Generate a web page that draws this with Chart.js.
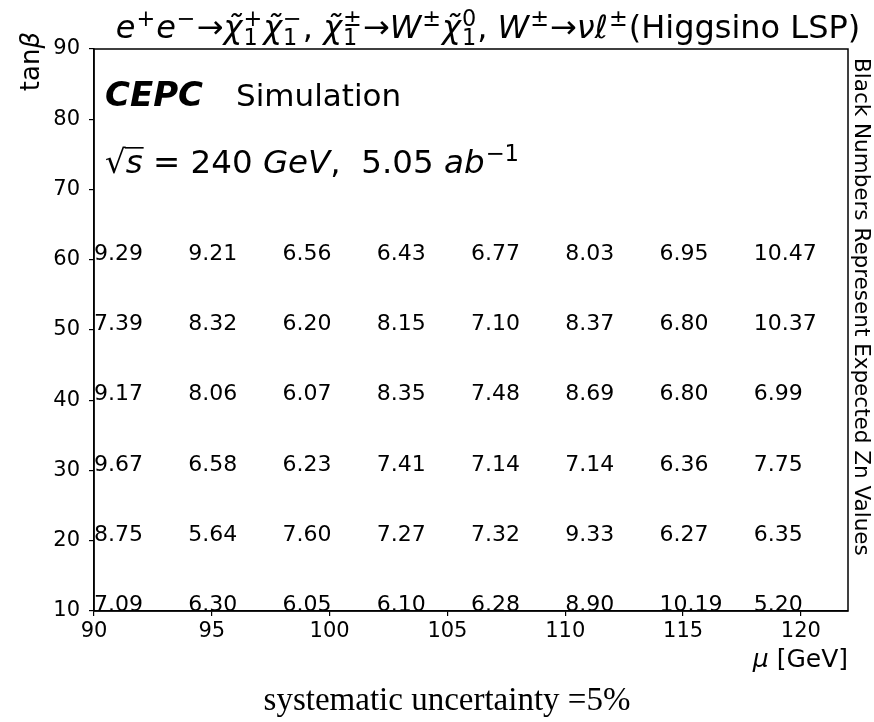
<!DOCTYPE html>
<html>
<head>
<meta charset="utf-8">
<script src="https://cdn.jsdelivr.net/npm/chart.js@4.4.0/dist/chart.umd.min.js"></script>
<style>
body { margin: 0; background: #fff; }
</style>
</head>
<body>
<canvas id="chart" width="874" height="722"></canvas>
<script>
// grid of (mu, tanBeta) points and the Zn value written at each one
const muPoints = [90, 94, 98, 102, 106, 110, 114, 118];
const tanBetaPoints = [60, 50, 40, 30, 20, 10];

const zn60 = [9.29, 9.21, 6.56, 6.43, 6.77, 8.03, 6.95, 10.47];
const zn50 = [7.39, 8.32, 6.20, 8.15, 7.10, 8.37, 6.80, 10.37];
const zn40 = [9.17, 8.06, 6.07, 8.35, 7.48, 8.69, 6.80, 6.99];
const zn30 = [9.67, 6.58, 6.23, 7.41, 7.14, 7.14, 6.36, 7.75];
const zn20 = [8.75, 5.64, 7.60, 7.27, 7.32, 9.33, 6.27, 6.35];
const zn10 = [7.09, 6.30, 6.05, 6.10, 6.28, 8.90, 10.19, 5.20];
const znRows = [zn60, zn50, zn40, zn30, zn20, zn10];

const xTicks = [90, 95, 100, 105, 110, 115, 120];
const yTicks = [10, 20, 30, 40, 50, 60, 70, 80, 90];

const FONT = '"DejaVu Sans"';

let points = [];
tanBetaPoints.forEach((tb, r) => {
    muPoints.forEach((mu, c) => {
        points.push({ x: mu, y: tb, zn: znRows[r][c] });
    });
});

// small mathtext-like writer: plain / italic runs plus stacked sub/superscripts
const drawMath = (ctx, tokens, x, y, size, onlyMeasure) => {
    let cx = x;
    for (const tk of tokens) {
        if (tk.s !== undefined) {
            ctx.font = `${tk.it ? 'italic ' : ''}${tk.b ? 'bold ' : ''}${size}px ${FONT}`;
            const w = ctx.measureText(tk.s).width;
            if (!onlyMeasure) {
                ctx.fillText(tk.s, cx, y);
                if (tk.over) {
                    ctx.fillRect(cx - 1, y - size * 0.80, w + 2, Math.max(1, size * 0.05));
                }
            }
            cx += w;
        } else {
            const ss = size * 0.7;
            ctx.font = `${ss}px ${FONT}`;
            let w = 0;
            if (tk.sup) {
                w = Math.max(w, ctx.measureText(tk.sup).width);
                if (!onlyMeasure) ctx.fillText(tk.sup, cx + 1, y - size * 0.38);
            }
            if (tk.sub) {
                w = Math.max(w, ctx.measureText(tk.sub).width);
                if (!onlyMeasure) ctx.fillText(tk.sub, cx + 1, y + size * 0.22);
            }
            cx += w + 2;
        }
    }
    return cx - x;
};

const chi = '\u03C7\u0303';
const titleTokens = [
    { s: 'e', it: true }, { sup: '+' }, { s: 'e', it: true }, { sup: '\u2212' },
    { s: '\u2192' },
    { s: chi, it: true }, { sub: '1', sup: '+' }, { s: chi, it: true }, { sub: '1', sup: '\u2212' },
    { s: ', ' },
    { s: chi, it: true }, { sub: '1', sup: '\u00B1' },
    { s: '\u2192' },
    { s: 'W', it: true }, { sup: '\u00B1' }, { s: chi, it: true }, { sub: '1', sup: '0' },
    { s: ', ' },
    { s: 'W', it: true }, { sup: '\u00B1' },
    { s: '\u2192' },
    { s: '\u03BD\u2113', it: true }, { sup: '\u00B1' },
    { s: '(Higgsino LSP)' }
];
const energyTokens = [
    { s: '\u221A' }, { s: 's', it: true, over: true }, { s: ' = 240 ' },
    { s: 'GeV', it: true }, { s: ',  5.05 ' }, { s: 'ab', it: true }, { sup: '\u22121' }
];

const znLabels = {
    id: 'znLabels',
    afterDatasetsDraw(chart) {
        const ctx = chart.ctx;
        const meta = chart.getDatasetMeta(0);
        ctx.save();
        ctx.fillStyle = '#000';
        ctx.font = `22px ${FONT}`;
        ctx.textAlign = 'left';
        ctx.textBaseline = 'alphabetic';
        meta.data.forEach((el, i) => {
            ctx.fillText(points[i].zn.toFixed(2), el.x, el.y);
        });
        ctx.restore();
    }
};

const decorations = {
    id: 'decorations',
    afterDraw(chart) {
        const ctx = chart.ctx;
        const area = chart.chartArea;
        ctx.save();
        ctx.strokeStyle = '#000';
        ctx.lineWidth = 1.5;
        ctx.strokeRect(area.left, area.top, area.right - area.left, area.bottom - area.top);

        ctx.fillStyle = '#000';
        ctx.textAlign = 'left';
        ctx.textBaseline = 'alphabetic';

        // title
        const tw = drawMath(ctx, titleTokens, 0, 0, 32, true);
        drawMath(ctx, titleTokens, 488 - tw / 2, 38, 32);

        // CEPC label
        ctx.font = `italic bold 34px ${FONT}`;
        ctx.fillText('CEPC', 105, 106);
        ctx.font = `31px ${FONT}`;
        ctx.fillText('Simulation', 236, 106);
        drawMath(ctx, energyTokens, 105, 173, 32.5);

        // axis titles
        const xw = drawMath(ctx, [{ s: '\u03BC', it: true }, { s: ' [GeV]' }], 0, 0, 25, true);
        drawMath(ctx, [{ s: '\u03BC', it: true }, { s: ' [GeV]' }], area.right - xw, 667, 25);

        ctx.save();
        ctx.translate(39, 32);
        ctx.rotate(-Math.PI / 2);
        const yw = drawMath(ctx, [{ s: 'tan' }, { s: '\u03B2', it: true }], 0, 0, 26, true);
        drawMath(ctx, [{ s: 'tan' }, { s: '\u03B2', it: true }], -yw, 0, 26);
        ctx.restore();

        // right side note
        ctx.save();
        ctx.translate(855, 58);
        ctx.rotate(Math.PI / 2);
        ctx.font = `21.5px ${FONT}`;
        ctx.fillText('Black Numbers Represent Expected Zn Values', 0, 0);
        ctx.restore();

        // bottom note
        ctx.font = '33px "Liberation Serif"';
        ctx.textAlign = 'center';
        ctx.fillText('systematic uncertainty =5%', 447, 710);
        ctx.restore();
    }
};

new Chart(document.getElementById('chart'), {
    type: 'scatter',
    data: {
        datasets: [{
            data: points,
            pointRadius: 0,
            pointHoverRadius: 0
        }]
    },
    options: {
        responsive: false,
        devicePixelRatio: 1,
        animation: false,
        events: [],
        layout: { padding: { left: 0, right: 26, top: 49, bottom: 0 } },
        plugins: {
            legend: { display: false },
            tooltip: { enabled: false }
        },
        scales: {
            x: {
                type: 'linear',
                min: 90,
                max: 122,
                afterBuildTicks: (scale) => { scale.ticks = xTicks.map(v => ({ value: v })); },
                afterFit: (scale) => { scale.height = 111; },
                border: { display: true, color: '#000', width: 1.5 },
                grid: { drawOnChartArea: false, drawTicks: true, tickLength: 5, color: '#000', lineWidth: 1.2 },
                ticks: { color: '#000', font: { family: 'DejaVu Sans', size: 21 }, padding: 3, maxRotation: 0 }
            },
            y: {
                type: 'linear',
                min: 10,
                max: 90,
                afterBuildTicks: (scale) => { scale.ticks = yTicks.map(v => ({ value: v })); },
                afterFit: (scale) => { scale.width = 94; },
                border: { display: true, color: '#000', width: 1.5 },
                grid: { drawOnChartArea: false, drawTicks: true, tickLength: 5, color: '#000', lineWidth: 1.2 },
                ticks: { color: '#000', font: { family: 'DejaVu Sans', size: 21 }, padding: 9 }
            }
        }
    },
    plugins: [znLabels, decorations]
});
</script>
</body>
</html>
